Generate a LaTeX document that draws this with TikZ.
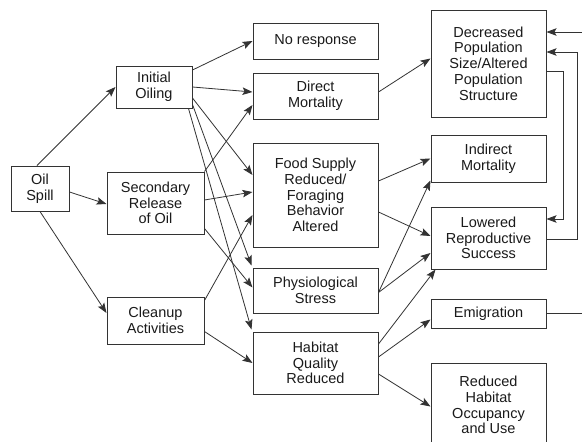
\documentclass[tikz,border=0pt]{standalone}
\usepackage{fontspec}
\setmainfont{Liberation Sans}
\usetikzlibrary{arrows.meta,calc}
\definecolor{linecol}{HTML}{333333}
\definecolor{txtcol}{HTML}{1A1A1A}
\tikzset{
  box/.style={draw=linecol, line width=1pt, align=center, inner sep=0pt, text=txtcol,
    font=\fontsize{14.5}{15.8}\selectfont},
  arr/.style={draw=linecol, line width=0.8pt, -{Stealth[length=10pt,width=7.5pt,inset=2pt]}},
  ln/.style={draw=linecol, line width=0.8pt}
}
\begin{document}
\begin{tikzpicture}[x=1pt,y=-1pt]
\fill[white] (0,0) rectangle (582,442);
\useasboundingbox (0,0) rectangle (582,442);
\clip (0,0) rectangle (582,442);
% left column
\node[box, minimum width=58pt, minimum height=45pt] (spill) at (40,188.5) {Oil\\Spill};
% second column
\node[box, minimum width=76pt, minimum height=42pt] (init) at (154,87) {Initial\\Oiling};
\node[box, minimum width=97pt, minimum height=62pt] (sec) at (155.5,203) {Secondary\\Release\\of Oil};
\node[box, minimum width=97pt, minimum height=47pt] (clean) at (155.5,320.5) {Cleanup\\Activities};
% third column
\node[box, minimum width=125pt, minimum height=36pt] (nores) at (315.5,41) {No response};
\node[box, minimum width=125pt, minimum height=46pt] (direct) at (315.5,96) {Direct\\Mortality};
\node[box, minimum width=125pt, minimum height=104pt] (food) at (315.5,195) {Food Supply\\Reduced/\\Foraging\\Behavior\\Altered};
\node[box, minimum width=125pt, minimum height=45pt] (phys) at (315.5,290.5) {Physiological\\Stress};
\node[box, minimum width=125pt, minimum height=62pt] (habitat) at (315.5,363) {Habitat\\Quality\\Reduced};
% fourth column
\node[box, minimum width=115pt, minimum height=107pt] (decr) at (488.5,63.5) {Decreased\\Population\\Size/Altered\\Population\\Structure};
\node[box, minimum width=115pt, minimum height=47pt] (indirect) at (488.5,158.5) {Indirect\\Mortality};
\node[box, minimum width=115pt, minimum height=62pt] (lowered) at (488.5,238) {Lowered\\Reproductive\\Success};
\node[box, minimum width=115pt, minimum height=29pt] (emig) at (488.5,313.5) {Emigration};
\node[box, minimum width=115pt, minimum height=84pt] (reduced) at (488.5,405) {Reduced\\Habitat\\Occupancy\\and Use};
% free ends at the right edge
\coordinate (emigout) at (582,313.5);
\coordinate (decrin) at (582,32);
% arrows from Oil Spill
\draw[arr] ($(spill.north)+(-3,0)$) -- (init.west);
\draw[arr] ($(spill.east)+(0,3.5)$) -- ($(sec.west)+(0,1)$);
\draw[arr] (spill.south) -- ($(clean.west)+(0,-7.5)$);
% arrows from Initial Oiling
\draw[arr] ($(init.east)+(0,-17)$) -- (nores.west);
\draw[arr] (init.east) -- ($(direct.west)+(0,-4)$);
\draw[arr] ($(init.east)+(0,11)$) -- ($(food.west)+(0,-20)$);
\draw[arr] ($(init.south east)+(0,-4)$) -- ($(phys.north west)+(-1,-2)$);
\draw[arr] ($(init.south east)+(-4,0)$) -- ($(habitat.north west)+(-1,-2)$);
% arrows from Secondary Release
\draw[arr] (sec.north east) -- ($(direct.west)+(0,9)$);
\draw[arr] ($(sec.east)+(0,-3)$) -- ($(food.west)+(0,-3)$);
\draw[arr] ($(sec.south east)+(0,-6)$) -- ($(phys.west)+(0,-3)$);
% arrows from Cleanup
\draw[arr] ($(clean.north east)+(0,4)$) -- ($(food.west)+(0,20)$);
\draw[arr] ($(clean.east)+(0,11)$) -- (habitat.west);
% third to fourth column
\draw[arr] ($(direct.east)+(0,-4)$) -- ($(decr.west)+(0,-5)$);
\draw[arr] ($(food.east)+(0,-14)$) -- (indirect.west);
\draw[arr] ($(food.east)+(0,17)$) -- ($(lowered.west)+(0,-2)$);
\draw[arr] ($(phys.east)+(0,2)$) -- ($(indirect.south west)+(0,-2)$);
\draw[arr] ($(phys.east)+(0,2)$) -- ($(lowered.west)+(0,15)$);
\draw[arr] ($(habitat.east)+(0,-19)$) -- ($(lowered.south west)+(5,0)$);
\draw[arr] ($(habitat.east)+(0,-6)$) -- ($(emig.west)+(0,6)$);
\draw[arr] ($(habitat.east)+(0,11)$) -- ($(reduced.west)+(0,1.5)$);
% feedback loops on the right
\draw[arr] ($(decr.east)+(0,7.5)$) -| (563,219) -- ($(lowered.east)+(0,-19)$);
\draw[arr] ($(lowered.east)+(0,1)$) -| (577,52) -- ($(decr.east)+(0,-11.5)$);
\draw[ln] (emig.east) -- (emigout);
\draw[arr] (decrin) -- ($(decr.east)+(0,-31.5)$);
\end{tikzpicture}
\end{document}
